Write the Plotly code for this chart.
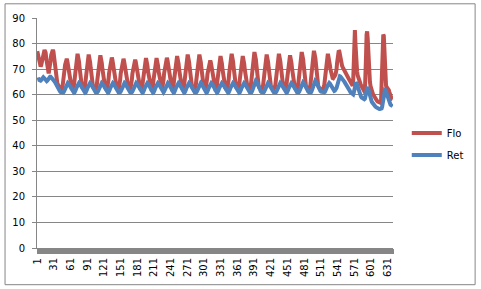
import plotly.graph_objects as go

# ---------------- data ----------------
flo_start = [77, 76, 74.5, 72.5, 71.5, 71, 71, 71.5, 72.5, 74,
             75.5, 76.5, 77, 77.5, 77, 76.5, 74.5, 72.5, 70.5, 69.5,
             69, 69, 70, 71.5, 73.5, 75.5, 76.8, 77.5, 77.5, 77,
             75, 72.5, 70, 68, 66.5, 65.5, 64.5, 64, 63.5, 63,
             62.5, 62.5, 62, 62, 62, 62.5]

flo_cycles = [
    [63.8, 65.8, 68.3, 69.7, 71.7, 73.2, 74, 74, 73.2, 71.7, 69.5, 68, 66, 64.5, 63.4, 62.8, 62.4, 62.3, 62.5, 63],
    [63.8, 65.8, 68.3, 71, 73, 74.5, 75.3, 75.3, 74.5, 73, 70.8, 68, 66, 64.5, 63.4, 62.8, 62.4, 62.3, 62.5, 63],
    [63.8, 65.8, 68.3, 70.7, 72.7, 74.2, 75, 75, 74.2, 72.7, 70.5, 68, 66, 64.5, 63.4, 62.8, 62.4, 62.2, 62.2, 62.5, 63],
    [63.8, 65.8, 68.3, 70.4, 72.4, 73.9, 74.7, 74.7, 73.9, 72.4, 70.2, 68, 66, 64.5, 63.4, 62.8, 62.4, 62.3, 62.5, 63],
    [63.8, 65.8, 68.3, 70.2, 72.2, 73.7, 74.5, 74.5, 73.7, 72.2, 70, 68, 66, 64.5, 63.4, 62.8, 62.4, 62.2, 62.2, 62.5, 63],
    [63.8, 65.8, 68.3, 69.7, 71.7, 73.2, 74, 74, 73.2, 71.7, 69.5, 68, 66, 64.5, 63.4, 62.8, 62.5, 62.3, 62.3, 62.5, 63],
    [63.8, 65.8, 68.2, 69.4, 71.4, 72.9, 73.7, 73.7, 72.9, 71.4, 69.2, 67.8, 66, 64.5, 63.4, 62.8, 62.4, 62.3, 62.5, 63],
    [63.8, 65.8, 68.2, 69.4, 71.4, 72.9, 73.7, 73.7, 72.9, 71.4, 69.2, 67.8, 66, 64.5, 63.4, 62.8, 62.4, 62.5, 63],
    [63.8, 65.8, 68.2, 69.4, 71.4, 72.9, 73.7, 73.7, 72.9, 71.4, 69.2, 67.8, 66, 64.5, 63.4, 62.7, 62.6, 63],
    [63.8, 65.8, 68.3, 70.1, 72.1, 73.6, 74.4, 74.4, 73.6, 72.1, 69.9, 68, 66, 64.5, 63.4, 62.8, 62.4, 62.5, 63],
    [63.8, 65.8, 68.3, 70.1, 72.1, 73.6, 74.4, 74.4, 73.6, 72.1, 69.9, 67.8, 65.8, 64.3, 63.3, 62.7, 62.4, 62.5, 63],
    [63.8, 65.8, 68.3, 70.7, 72.7, 74.2, 75, 75, 74.2, 72.7, 70.5, 68, 66, 64.5, 63.4, 62.8, 62.4, 62.2, 62.2, 62.5, 63],
    [63.8, 65.8, 68.3, 70.7, 72.7, 74.2, 75, 75, 74.2, 72.7, 70.5, 68, 66, 64.5, 63.4, 62.8, 62.5, 62.6, 63],
    [63.8, 65.8, 68.1, 69.1, 71.1, 72.6, 73.4, 73.4, 72.6, 71.1, 68.9, 67.6, 65.8, 64.4, 63.4, 62.8, 62.4, 62.5, 63],
    [63.8, 65.8, 68.3, 70.1, 72.1, 73.6, 74.4, 74.4, 73.6, 72.1, 69.9, 68, 66, 64.5, 63.4, 62.8, 62.4, 62.3, 62.5, 63],
    [63.8, 65.8, 68.3, 71, 73, 74.5, 75.3, 75.3, 74.5, 73, 70.8, 68, 66, 64.5, 63.4, 62.8, 62.4, 62.3, 62.5, 63],
    [63.8, 65.8, 68.3, 70.1, 72.1, 73.6, 74.4, 74.4, 73.6, 72.1, 69.9, 68, 66, 64.5, 63.4, 62.8, 62.5, 62.3, 62.3, 62.5, 63],
    [63.8, 65.8, 68.5, 71.7, 73.7, 75.2, 76, 76, 75.2, 73.7, 71.5, 68.5, 66.2, 64.6, 63.4, 62.8, 62.4, 62.2, 62.1, 62.2, 62.5, 63],
    [63.8, 65.8, 68.3, 70.7, 72.7, 74.2, 75, 75, 74.2, 72.7, 70.5, 68, 66, 64.5, 63.4, 62.8, 62.4, 62.2, 62.1, 62.2, 62.5, 63],
    [63.8, 65.8, 68.3, 71, 73, 74.5, 75.3, 75.3, 74.5, 73, 70.8, 68, 66, 64.5, 63.4, 62.8, 62.4, 62.3, 62.5, 63],
    [63.8, 65.8, 68.3, 70.4, 72.4, 73.9, 74.7, 74.7, 73.9, 72.4, 70.2, 68, 66, 64.5, 63.4, 62.8, 62.4, 62.2, 62.2, 62.5, 63],
    [63.8, 65.8, 68.5, 71.7, 73.7, 75.2, 76, 76, 75.2, 73.7, 71.5, 68.5, 66.2, 64.6, 63.4, 62.8, 62.4, 62.2, 62.1, 62.2, 62.5, 63],
    [63.8, 65.8, 68.6, 72.2, 74.2, 75.7, 76.5, 76.5, 75.7, 74.2, 72, 68.8, 66.4, 64.7, 63.5, 62.8, 62.4, 62.2, 62.1, 62, 62, 62, 62.1, 62.5, 63],
]

flo_tail = [63.8, 65.8, 68.3, 71, 73, 74.5, 75.3, 75.3, 74.5, 73.2,
            71.6, 70, 68.7, 67.6, 66.9, 66.5, 66.4, 66.6, 67, 67.4,
            67.8, 68.4, 70, 72.5, 75, 76.8, 77.3, 77, 75.5, 74,
            72.8, 72, 71.3, 70.8, 70.3, 69.9, 69.5, 69.1, 68.7, 68.3,
            67.9, 67.5, 67, 66.6, 66.2, 65.8, 65.4, 65, 64.6, 64.2,
            63.8, 63.5, 66, 76, 85, 85.3, 80, 74, 71, 69,
            67.5, 66.5, 66, 65.5, 65, 64.3, 63.7, 63.2, 62.8, 62.4,
            62, 61.6, 61.3, 61.5, 66, 75, 83.5, 84.8, 82, 75,
            70, 67, 65, 63.5, 62.3, 61.5, 61, 60.5, 60, 59.5,
            59.1, 58.7, 58.4, 58.1, 57.8, 57.5, 57.3, 57.1, 57, 56.9,
            56.8, 56.8, 57.5, 64, 74, 81.5, 83.5, 83, 78, 70,
            65.5, 63.5, 63, 62.8, 62.6, 62.3, 61.8, 61, 60, 59.3,
            58.8, 58.5, 58.3, 58.2]

ret_start = [65.8, 66, 66.2, 66, 65.7, 65.5, 65.5, 65.7, 66, 66.4,
             66.7, 66.8, 66.6, 66.2, 65.8, 65.5, 65.3, 65.3, 65.5, 65.9,
             66.3, 66.6, 66.8, 67, 67, 66.8, 66.5, 66.2, 66, 65.8,
             65.5, 65.2, 64.8, 64.3, 63.8, 63.3, 62.8, 62.4, 62, 61.7,
             61.4, 61.2, 61, 60.9, 60.8, 60.8]

ret_cycles = [
    [60.8, 60.9, 61.2, 61.8, 62.5, 63.1, 63.7, 64.2, 64.5, 64.6, 64.4, 64, 63.5, 63, 62.5, 62, 61.6, 61.3, 61, 60.9],
    [60.8, 60.9, 61.2, 61.8, 62.5, 63.1, 63.7, 64.2, 64.5, 64.6, 64.4, 64, 63.5, 63, 62.5, 62, 61.6, 61.3, 61, 60.9],
    [60.8, 60.9, 61.2, 61.8, 62.5, 63.1, 63.7, 64.2, 64.5, 64.6, 64.4, 64, 63.5, 63, 62.5, 62, 61.6, 61.3, 61.1, 60.9, 60.9],
    [60.8, 60.9, 61.2, 61.8, 62.5, 63.1, 63.7, 64.2, 64.5, 64.6, 64.4, 64, 63.5, 63, 62.5, 62, 61.6, 61.3, 61, 60.9],
    [60.8, 60.9, 61.2, 61.8, 62.5, 63.1, 63.7, 64.2, 64.5, 64.6, 64.4, 64, 63.5, 63, 62.5, 62, 61.6, 61.3, 61.1, 60.9, 60.9],
    [60.8, 60.9, 61.2, 61.8, 62.5, 63.1, 63.7, 64.2, 64.5, 64.6, 64.4, 64, 63.5, 63, 62.5, 62, 61.6, 61.3, 61.1, 60.9, 60.9],
    [60.8, 60.9, 61.2, 61.8, 62.5, 63.1, 63.7, 64.2, 64.5, 64.6, 64.4, 64, 63.5, 63, 62.5, 62, 61.6, 61.3, 61, 60.9],
    [60.8, 60.9, 61.2, 61.8, 62.5, 63.1, 63.7, 64.2, 64.5, 64.6, 64.4, 64, 63.5, 63, 62.5, 61.9, 61.4, 61.1, 60.9],
    [60.8, 60.9, 61.2, 61.8, 62.5, 63.1, 63.7, 64.2, 64.5, 64.6, 64.4, 64, 63.5, 63, 62.5, 61.8, 61.3, 60.9],
    [60.8, 60.9, 61.2, 61.8, 62.5, 63.1, 63.7, 64.2, 64.5, 64.6, 64.4, 64, 63.5, 63, 62.5, 61.9, 61.4, 61.1, 60.9],
    [60.8, 60.9, 61.2, 61.8, 62.5, 63.1, 63.7, 64.2, 64.5, 64.6, 64.4, 64, 63.5, 63, 62.5, 61.9, 61.4, 61.1, 60.9],
    [60.8, 60.9, 61.2, 61.8, 62.5, 63.1, 63.7, 64.2, 64.5, 64.6, 64.4, 64, 63.5, 63, 62.5, 62, 61.6, 61.3, 61.1, 60.9, 60.9],
    [60.8, 60.9, 61.2, 61.8, 62.5, 63.1, 63.7, 64.2, 64.5, 64.6, 64.4, 64, 63.5, 63, 62.5, 61.9, 61.4, 61.1, 60.9],
    [60.8, 60.9, 61.2, 61.8, 62.5, 63.1, 63.7, 64.2, 64.5, 64.6, 64.4, 64, 63.5, 63, 62.5, 61.9, 61.4, 61.1, 60.9],
    [60.8, 60.9, 61.2, 61.8, 62.5, 63.1, 63.7, 64.2, 64.5, 64.6, 64.4, 64, 63.5, 63, 62.5, 62, 61.6, 61.3, 61, 60.9],
    [60.8, 60.9, 61.2, 61.8, 62.5, 63.1, 63.7, 64.2, 64.5, 64.6, 64.4, 64, 63.5, 63, 62.5, 62, 61.6, 61.3, 61, 60.9],
    [60.8, 60.9, 61.2, 61.8, 62.5, 63.1, 63.7, 64.2, 64.5, 64.6, 64.4, 64, 63.5, 63, 62.5, 62, 61.6, 61.3, 61.1, 60.9, 60.9],
    [60.8, 60.9, 61.3, 62, 62.9, 63.7, 64.4, 65, 65.4, 65.5, 65.3, 64.8, 64.1, 63.4, 62.7, 62, 61.7, 61.4, 61.2, 61, 60.9, 60.9],
    [60.8, 60.9, 61.2, 61.8, 62.5, 63.1, 63.7, 64.2, 64.5, 64.6, 64.4, 64, 63.5, 63, 62.5, 62, 61.7, 61.4, 61.2, 61, 60.9, 60.9],
    [60.8, 60.9, 61.2, 61.8, 62.5, 63.1, 63.7, 64.2, 64.5, 64.6, 64.4, 64, 63.5, 63, 62.5, 62, 61.6, 61.3, 61, 60.9],
    [60.8, 60.9, 61.2, 61.8, 62.5, 63.1, 63.7, 64.2, 64.5, 64.6, 64.4, 64, 63.5, 63, 62.5, 62, 61.6, 61.3, 61.1, 60.9, 60.9],
    [60.8, 60.9, 61.2, 61.8, 62.5, 63.2, 63.9, 64.5, 64.8, 64.9, 64.7, 64.2, 63.6, 63, 62.5, 62, 61.7, 61.4, 61.2, 61, 60.9, 60.9],
    [60.8, 60.9, 61.3, 62, 62.9, 63.7, 64.4, 65, 65.4, 65.5, 65.3, 64.8, 64.1, 63.4, 62.7, 62.1, 61.8, 61.6, 61.4, 61.2, 61.1, 61, 60.9, 60.9, 60.9],
]

ret_tail = [61, 61.1, 61.4, 61.9, 62.5, 63.1, 63.7, 64.2, 64.5, 64.6,
            64.4, 64, 63.5, 63, 62.5, 62.1, 61.8, 61.6, 61.5, 61.6,
            61.8, 62.1, 62.6, 63.4, 64.5, 65.6, 66.5, 67, 67.2, 67.1,
            66.9, 66.6, 66.3, 66, 65.7, 65.4, 65.1, 64.8, 64.4, 64,
            63.6, 63.3, 63, 62.6, 62.2, 61.8, 61.4, 61, 60.7, 60.4,
            60.2, 60, 60.1, 60.8, 62, 63.5, 64.5, 64.8, 64.5, 63.8,
            62.8, 61.8, 61, 60.4, 59.9, 59.5, 59.2, 58.9, 58.7, 58.5,
            58.3, 58.2, 58.2, 58.4, 59, 60.3, 61.8, 62.8, 63, 62.3,
            61.2, 60.1, 59.2, 58.5, 57.9, 57.4, 57, 56.6, 56.3, 56,
            55.7, 55.5, 55.3, 55.1, 54.9, 54.8, 54.7, 54.6, 54.5, 54.4,
            54.4, 54.4, 54.4, 54.6, 55.3, 56.8, 58.8, 60.5, 61.5, 61.9,
            61.8, 61.2, 60.2, 59.2, 58.4, 57.7, 57.2, 56.8, 56.4, 56.1,
            55.9, 55.7, 55.6, 55.5]

x_tick_labels = ["1", "31", "61", "91", "121", "151", "181", "211", "241", "271", "301",
                 "331", "361", "391", "421", "451", "481", "511", "541", "571", "601", "631"]
y_ticks = [0, 10, 20, 30, 40, 50, 60, 70, 80, 90]
series_names = ["Flo", "Ret"]
series_colors = ["#C0504D", "#4F81BD"]

# ---------------- assemble ----------------
flo = list(flo_start)
for seg in flo_cycles:
    flo += seg
flo += flo_tail
ret = list(ret_start)
for seg in ret_cycles:
    ret += seg
ret += ret_tail

x_flo = list(range(1, len(flo) + 1))
x_ret = list(range(1, len(ret) + 1))
tickvals = [int(t) for t in x_tick_labels]

FONT = "DejaVu Sans"
GRAY = "#868686"

fig = go.Figure()
fig.add_trace(go.Scatter(x=x_flo, y=flo, mode="lines", name=series_names[0],
                         line=dict(color=series_colors[0], width=4), legend="legend"))
fig.add_trace(go.Scatter(x=x_ret, y=ret, mode="lines", name=series_names[1],
                         line=dict(color=series_colors[1], width=4), legend="legend2"))

L, R, T, B = 34, 85, 15, 39
W, H = 481, 289
pw, ph = W - L - R, H - T - B

fig.update_layout(
    width=W, height=H,
    margin=dict(l=L, r=R, t=T, b=B, pad=0),
    paper_bgcolor="white", plot_bgcolor="white",
    font=dict(family=FONT, size=10, color="black"),
    showlegend=True,
    legend=dict(x=(410 - L) / pw, xanchor="left", y=(H - B - 132.5) / ph, yanchor="middle",
                font=dict(family=FONT, size=10, color="black"), bgcolor="rgba(0,0,0,0)",
                borderwidth=0),
    legend2=dict(x=(410 - L) / pw, xanchor="left", y=(H - B - 155) / ph, yanchor="middle",
                 font=dict(family=FONT, size=10, color="black"), bgcolor="rgba(0,0,0,0)",
                 borderwidth=0),
    xaxis=dict(range=[0.5, 640.5], tickmode="array", tickvals=tickvals, ticktext=x_tick_labels,
               tickangle=-90, ticks="outside", ticklen=5, tickcolor=GRAY, tickwidth=1,
               showline=True, linecolor=GRAY, linewidth=1, showgrid=False, zeroline=False,
               tickfont=dict(family=FONT, size=10, color="black"),
               minor=dict(ticks="outside", ticklen=5, tickcolor=GRAY, tickwidth=1,
                          tickmode="linear", tick0=0.5, dtick=1, showgrid=False)),
    yaxis=dict(range=[0, 90], tickmode="array", tickvals=y_ticks, ticks="outside", ticklen=4,
               tickcolor=GRAY, showline=True, linecolor=GRAY, linewidth=1,
               showgrid=True, gridcolor=GRAY, gridwidth=1, zeroline=False,
               tickfont=dict(family=FONT, size=10, color="black"), ticklabelstandoff=5),
    shapes=[dict(type="rect", xref="paper", yref="paper",
                 x0=(1.5 - L) / pw, x1=(479.5 - L) / pw,
                 y0=(H - B - 287.5) / ph, y1=(H - B - 0.5) / ph,
                 line=dict(color=GRAY, width=1), fillcolor="rgba(0,0,0,0)", layer="below")],
)

fig.write_html("out.html")
